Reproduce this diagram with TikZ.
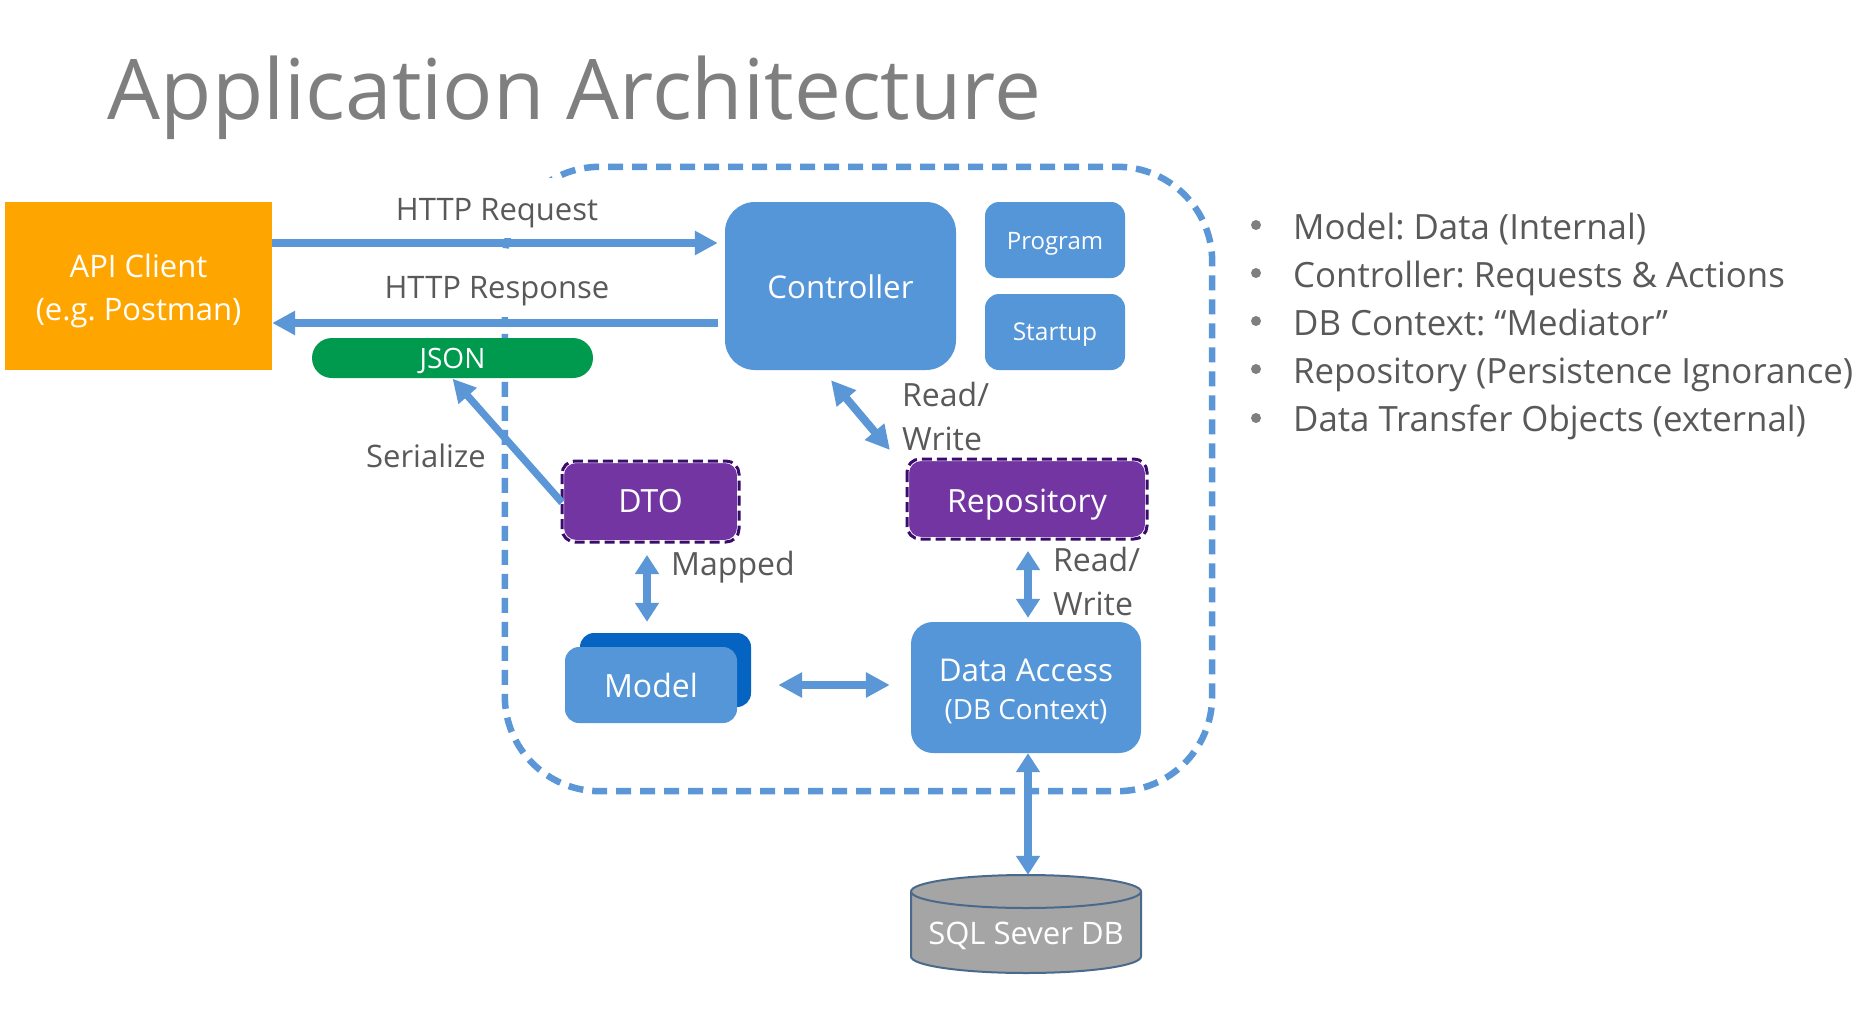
\documentclass[tikz,border=0pt]{standalone}
\usepackage{fontspec}
\setmainfont{Open Sans}
\usetikzlibrary{arrows.meta,calc}
\definecolor{boxblue}{HTML}{5596D8}
\definecolor{arrowblue}{HTML}{5B96D6}
\definecolor{darkblue}{HTML}{0563C1}
\definecolor{clientorange}{HTML}{FFA500}
\definecolor{jsongreen}{HTML}{009A4E}
\definecolor{dtopurple}{HTML}{7335A2}
\definecolor{purpleedge}{HTML}{3A0C6E}
\definecolor{txtgray}{HTML}{595959}
\definecolor{titlegray}{HTML}{7F7F7F}
\definecolor{dbgray}{HTML}{A5A5A5}
\definecolor{dbedge}{HTML}{4A6A8C}
\newcommand{\fs}[2][]{\fontsize{#2}{#2}\selectfont}
\tikzset{
  x=1pt,y=-1pt,
  every node/.append style={execute at begin node=\frenchspacing},
  bluebox/.style={draw=none,fill=boxblue,text=white,align=center,inner sep=0pt,rounded corners=#1},
  bluebox/.default=14pt,
  purplebox/.style={fill=dtopurple,draw=white,line width=2pt,text=white,inner sep=0pt,rounded corners=13pt,font=\fs{32}},
  purpledash/.style={draw=purpleedge,line width=3pt,dash pattern=on 10pt off 5pt,rounded corners=13pt},
  arr/.style={draw=arrowblue,line width=7.3pt,-{Triangle[length=23pt,width=23pt]}},
  dbl/.style={draw=arrowblue,line width=8pt,{Triangle[length=19pt,width=23pt]}-{Triangle[length=19pt,width=23pt]}},
  dblwide/.style={draw=arrowblue,line width=8pt,{Triangle[length=24pt,width=24pt]}-{Triangle[length=24pt,width=24pt]}},
  lbl/.style={text=txtgray,inner sep=0pt,anchor=base,font=\fs{31}},
  lblleft/.style={text=txtgray,inner sep=0pt,anchor=base west,font=\fs{32}},
  bullet/.style={text=txtgray,anchor=base west,inner sep=0pt,font=\fs{34.8}},
  dot/.style={circle,fill=titlegray,inner sep=0pt,minimum size=10pt},
}
\begin{document}
\begin{tikzpicture}
\useasboundingbox (0,0) rectangle (1875,1023);
\fill[white] (0,0) rectangle (1875,1023);
% boundary
\node[draw=none,minimum width=707pt,minimum height=624pt,inner sep=0pt] (bound) at (858.5,479) {};
\draw[draw=arrowblue,line width=6.5pt,dash pattern=on 15pt off 9pt,rounded corners=95pt]
  (bound.north west) rectangle (bound.south east);
% title
\node[text=titlegray,inner sep=0pt,anchor=base,font=\fs{83.7}] (title) at (574.5,119) {Application Architecture};
% the label boxes hide part of the boundary
\fill[white] (385,178) rectangle (610,238);
\fill[white] (380,256) rectangle (615,317);
\node[lbl] (req) at (497,220) {HTTP Request};
\node[lbl] (resp) at (497,298) {HTTP Response};
% nodes
\node[fill=clientorange,text=white,align=center,inner sep=0pt,minimum width=267pt,minimum height=168pt,font=\fontsize{31}{43}\selectfont] (api) at (138.5,286) {\rule{0pt}{34pt}API Client\\(e.g. Postman)};
\node[bluebox=30pt,minimum width=231pt,minimum height=168pt,text height=24pt,text depth=0pt,font=\fs{31.3}] (ctrl) at (840.5,286) {Controller};
\node[bluebox,minimum width=140pt,minimum height=76pt,text height=18pt,text depth=0pt,font=\fs{24}] (prog) at (1055,240) {Program};
\node[bluebox,minimum width=140pt,minimum height=76pt,text height=16pt,text depth=0pt,font=\fs{24.5}] (start) at (1055,332) {Startup};
\node[fill=jsongreen,text=white,rounded corners=20pt,inner sep=0pt,minimum width=281pt,minimum height=40pt,text height=20pt,text depth=0pt,font=\fs{28}] (json) at (452.5,358) {JSON};
\node[purplebox,minimum width=175pt,minimum height=79pt,text height=21pt,text depth=0pt] (dto) at (650.5,501.5) {DTO};
\draw[purpledash] (dto.north west) rectangle (dto.south east);
\node[purplebox,minimum width=238pt,minimum height=78pt,text height=26pt,text depth=0pt] (repo) at (1027,499) {Repository};
\draw[purpledash] (repo.north west) rectangle (repo.south east);
\node[fill=darkblue,rounded corners=14pt,inner sep=0pt,minimum width=171pt,minimum height=74pt] (modelback) at (665.5,670) {};
\node[bluebox,minimum width=172pt,minimum height=76pt,text height=24pt,text depth=0pt,font=\fs{32}] (model) at (651,685) {Model};
\node[bluebox=22pt,minimum width=230pt,minimum height=131pt,font=\fontsize{31.4}{38}\selectfont] (da) at (1026,687.5) {\rule{0pt}{31pt}Data Access\\{\fontsize{27.8}{38}\selectfont (DB Context)}};
% database drum
\node[minimum width=230pt,minimum height=98pt,inner sep=0pt] (db) at (1026,924) {};
\filldraw[draw=dbedge,line width=2pt,fill=dbgray] (911,891.5) -- (911,956.5)
  .. controls (911,965.6) and (962.5,973) .. (1026,973)
  .. controls (1089.5,973) and (1141,965.6) .. (1141,956.5) -- (1141,891.5)
  .. controls (1141,882.4) and (1089.5,875) .. (1026,875)
  .. controls (962.5,875) and (911,882.4) .. (911,891.5) -- cycle;
\draw[draw=dbedge,line width=2pt] (911,891.5)
  .. controls (911,900.6) and (962.5,908) .. (1026,908)
  .. controls (1089.5,908) and (1141,900.6) .. (1141,891.5);
\node[text=white,inner sep=0pt,anchor=base,font=\fs{31}] (dbtext) at (1026,944) {SQL Sever DB};
% connectors
\draw[arr,shorten >=7pt] ([yshift=43pt]api.east) -- ([yshift=43pt]ctrl.west);
\draw[arr,shorten <=7pt] ([yshift=-37pt]ctrl.west) -- ([yshift=-37pt]api.east);
\draw[dbl] ([xshift=2pt,yshift=4pt]da.north) -- ([xshift=1pt,yshift=-12pt]repo.south);
\draw[dblwide] ($(ctrl.south west)!0.459!(ctrl.south east)+(0,-10pt)$) -- ($(repo.north west)!-0.071!(repo.north east)+(0,9pt)$);
\draw[arr] ([yshift=-1pt]dto.west) -- ([yshift=-0.5pt]json.south);
\draw[dbl] ([xshift=-3.5pt,yshift=-13pt]dto.south) -- ([xshift=-4pt,yshift=25pt]model.north);
\draw[dblwide] ([xshift=41pt]model.east) -- ([xshift=-21pt,yshift=2.5pt]da.west);
\draw[dbl] ([xshift=2pt]da.south) -- ([xshift=2pt]db.north);
% edge labels
\node[lbl] (ser) at (426,467) {Serialize};
\node[lblleft] (mapped) at (671,575) {Mapped};
\node[lblleft] (rw1a) at (902,406) {Read/};
\node[lblleft] (rw1b) at (902,450) {Write};
\node[lblleft] (rw2a) at (1053,571) {Read/};
\node[lblleft] (rw2b) at (1053,615) {Write};
% bullets
\node[dot] (d1) at (1256,225) {};
\node[dot] (d2) at (1256,273) {};
\node[dot] (d3) at (1256,321) {};
\node[dot] (d4) at (1256,369) {};
\node[dot] (d5) at (1256,418) {};
\node[bullet] (b1) at (1293,239) {Model: Data (Internal)};
\node[bullet] (b2) at (1293,287) {Controller: Requests \& Actions};
\node[bullet] (b3) at (1293,335) {DB Context: “Mediator”};
\node[bullet] (b4) at (1293,383) {Repository (Persistence Ignorance)};
\node[bullet] (b5) at (1293,431) {Data Transfer Objects (external)};
\end{tikzpicture}
\end{document}
